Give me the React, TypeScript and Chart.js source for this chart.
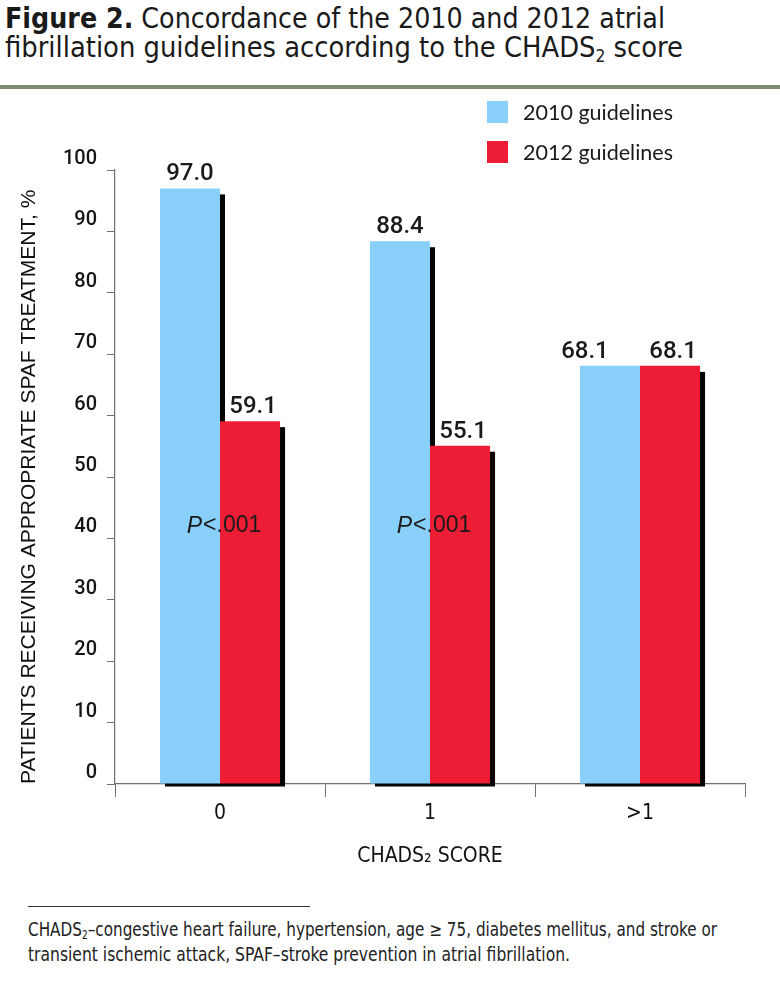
import React, { useEffect, useLayoutEffect, useRef } from "react";
import { Chart, registerables } from "chart.js";

Chart.register(...registerables);

// ---------- data ----------
const categories = ["0", "1", ">1"];
const series2010 = [97.0, 88.4, 68.1];
const series2012 = [59.1, 55.1, 68.1];
const labels2010 = ["97.0", "88.4", "68.1"];
const labels2012 = ["59.1", "55.1", "68.1"];
const yTickValues = [0, 10, 20, 30, 40, 50, 60, 70, 80, 90, 100];
const pValueNotes = ["<.001", "<.001", ""];
const pValueLevel = 42;

const BLUE = "#88D0FA";
const RED = "#EE1D36";
const NARROW = "'Liberation Sans Narrow', 'DejaVu Sans Condensed', 'Roboto Condensed', 'Liberation Sans', sans-serif";
const SANS = "'Liberation Sans', Arial, sans-serif";
const MED = "Roboto, 'Liberation Sans', sans-serif";
const LEGEND_FONT = "Lato, 'Open Sans', sans-serif";

function FitText({ width, style, children }: any) {
  const ref = useRef<HTMLSpanElement>(null);
  const fit = () => {
    const el = ref.current;
    if (!el) return;
    el.style.transform = "none";
    const w = el.getBoundingClientRect().width;
    if (w > 0) el.style.transform = `scaleX(${width / w})`;
  };
  useLayoutEffect(() => {
    fit();
    (document as any).fonts?.ready?.then(fit);
  });
  return (
    <span
      ref={ref}
      style={{
        display: "inline-block",
        whiteSpace: "nowrap",
        transformOrigin: "left top",
        ...style,
      }}
    >
      {children}
    </span>
  );
}

const Sub = ({ children }: any) => (
  <span style={{ fontSize: "0.6em", position: "relative", top: "0.3em", lineHeight: 0 }}>{children}</span>
);

const shadowPlugin = {
  id: "barShadow",
  beforeDatasetsDraw(chart: any) {
    const ctx = chart.ctx;
    ctx.save();
    ctx.fillStyle = "#050505";
    [0, 1].forEach((di) => {
      chart.getDatasetMeta(di).data.forEach((el: any) => {
        const { x, y, base, width } = el.getProps(["x", "y", "base", "width"], true);
        ctx.fillRect(x - width / 2 + 5, y + 6, width, base - y - 3);
      });
    });
    ctx.restore();
  },
};

const labelPlugin = {
  id: "barLabels",
  afterDatasetsDraw(chart: any) {
    const ctx = chart.ctx;
    ctx.save();
    ctx.fillStyle = "#1a1a1a";
    ctx.font = `500 24px ${MED}`;
    ctx.textAlign = "center";
    ctx.textBaseline = "alphabetic";
    const m0 = chart.getDatasetMeta(0).data;
    const m1 = chart.getDatasetMeta(1).data;
    categories.forEach((_, i) => {
      const a = m0[i].getProps(["x", "y"], true);
      const b = m1[i].getProps(["x", "y"], true);
      const same = Math.abs(a.y - b.y) < 1;
      ctx.fillText(labels2010[i], a.x - (same ? 25 : 0), a.y - 8);
      ctx.fillText(labels2012[i], b.x + 3, b.y - 8);
    });
    // P-value notes
    const xs = chart.scales.x;
    const ys = chart.scales.y;
    ctx.textAlign = "left";
    ctx.textBaseline = "middle";
    pValueNotes.forEach((note, i) => {
      if (!note) return;
      const cx = xs.getPixelForValue(i) + 4;
      const cy = ys.getPixelForValue(pValueLevel);
      ctx.font = `italic 23px ${SANS}`;
      const wp = ctx.measureText("P").width + 1;
      ctx.font = `23px ${SANS}`;
      const wn = ctx.measureText(note).width;
      const start = cx - (wp + wn) / 2;
      ctx.fillStyle = "#1a1a1a";
      ctx.font = `italic 23px ${SANS}`;
      ctx.fillText("P", start, cy);
      ctx.font = `23px ${SANS}`;
      ctx.fillText(note, start + wp, cy);
    });
    ctx.restore();
  },
};

function BarChart() {
  const canvasRef = useRef<HTMLCanvasElement>(null);
  useEffect(() => {
    const canvas = canvasRef.current;
    if (!canvas) return;
    const chart = new Chart(canvas, {
      type: "bar",
      data: {
        labels: categories,
        datasets: [
          { label: "2010 guidelines", data: series2010, backgroundColor: BLUE, borderWidth: 0, clip: false as any },
          { label: "2012 guidelines", data: series2012, backgroundColor: RED, borderWidth: 0, clip: false as any },
        ],
      },
      options: {
        animation: false,
        responsive: false,
        layout: { padding: { left: 0, right: 35, top: 30, bottom: 0 } },
        datasets: { bar: { categoryPercentage: 0.572, barPercentage: 1 } },
        plugins: { legend: { display: false }, tooltip: { enabled: false } },
        scales: {
          x: {
            offset: true,
            grid: { offset: true, drawOnChartArea: false, drawTicks: true, tickLength: 13, color: "#707070", lineWidth: 1 },
            border: { display: true, color: "#707070", width: 1.2 },
            ticks: { color: "#111", font: { family: NARROW, size: 21 }, padding: 4 },
            title: {
              display: true,
              text: "CHADS₂ SCORE",
              color: "#111",
              font: { family: NARROW, size: 21 },
              padding: { top: 0, bottom: 31 },
            },
            afterFit: (s: any) => {
              s.height = 116;
            },
          },
          y: {
            min: 0,
            max: 100,
            afterBuildTicks: (s: any) => {
              s.ticks = yTickValues.map((v) => ({ value: v }));
            },
            ticks: {
              color: "#151515",
              font: { family: MED, size: 20, weight: "500" as any },
              padding: 10,
              labelOffset: -11,
            },
            grid: { drawOnChartArea: false, drawTicks: true, tickLength: 8, color: "#707070" },
            border: { display: true, color: "#707070", width: 1.2 },
            title: {
              display: true,
              align: "start",
              text: "PATIENTS RECEIVING APPROPRIATE SPAF TREATMENT, %",
              color: "#111",
              font: { family: SANS, size: 21 },
              padding: { top: 17, bottom: 0 },
            },
            afterFit: (s: any) => {
              s.width = 115;
            },
          },
        },
      },
      plugins: [shadowPlugin, labelPlugin],
    });
    return () => chart.destroy();
  }, []);
  return <canvas ref={canvasRef} width={780} height={760} style={{ display: "block", width: 780, height: 760 }} />;
}

export default function App() {
  return (
    <div style={{ position: "absolute", left: 0, top: 0, width: 780, height: 1001, background: "#fff", overflow: "hidden", color: "#1a1a1a" }}>
      {/* Title */}
      <div style={{ position: "absolute", left: 5, top: 5, fontFamily: NARROW, fontSize: 28, lineHeight: "28px" }}>
        <FitText width={660}>
          <b>Figure 2.</b> Concordance of the 2010 and 2012 atrial
        </FitText>
      </div>
      <div style={{ position: "absolute", left: 5, top: 34, fontFamily: NARROW, fontSize: 28, lineHeight: "28px" }}>
        <FitText width={678}>
          fibrillation guidelines according to the CHADS<Sub>2</Sub> score
        </FitText>
      </div>
      <div style={{ position: "absolute", left: 0, top: 85, width: 780, height: 4, background: "#7E8A72" }} />

      {/* Chart */}
      <div style={{ position: "absolute", left: 0, top: 140, width: 780, height: 760 }}>
        <BarChart />
      </div>

      {/* Legend */}
      <div style={{ position: "absolute", left: 487, top: 101, width: 21, height: 22, background: BLUE }} />
      <div style={{ position: "absolute", left: 523, top: 100, fontFamily: LEGEND_FONT, fontSize: 21.5, lineHeight: "24px", color: "#1a1a1a" }}>
        2010 guidelines
      </div>
      <div style={{ position: "absolute", left: 487, top: 141, width: 21, height: 22, background: RED }} />
      <div style={{ position: "absolute", left: 523, top: 140, fontFamily: LEGEND_FONT, fontSize: 21.5, lineHeight: "24px", color: "#1a1a1a" }}>
        2012 guidelines
      </div>

      {/* Footnote */}
      <div style={{ position: "absolute", left: 28, top: 906, width: 282, height: 1, background: "#333" }} />
      <div style={{ position: "absolute", left: 28, top: 920, fontFamily: NARROW, fontSize: 19, lineHeight: "19px", color: "#222" }}>
        <FitText width={689}>
          CHADS<Sub>2</Sub>–congestive heart failure, hypertension, age ≥ 75, diabetes mellitus, and stroke or
        </FitText>
      </div>
      <div style={{ position: "absolute", left: 28, top: 945, fontFamily: NARROW, fontSize: 19, lineHeight: "19px", color: "#222" }}>
        <FitText width={542}>transient ischemic attack, SPAF–stroke prevention in atrial fibrillation.</FitText>
      </div>
    </div>
  );
}
